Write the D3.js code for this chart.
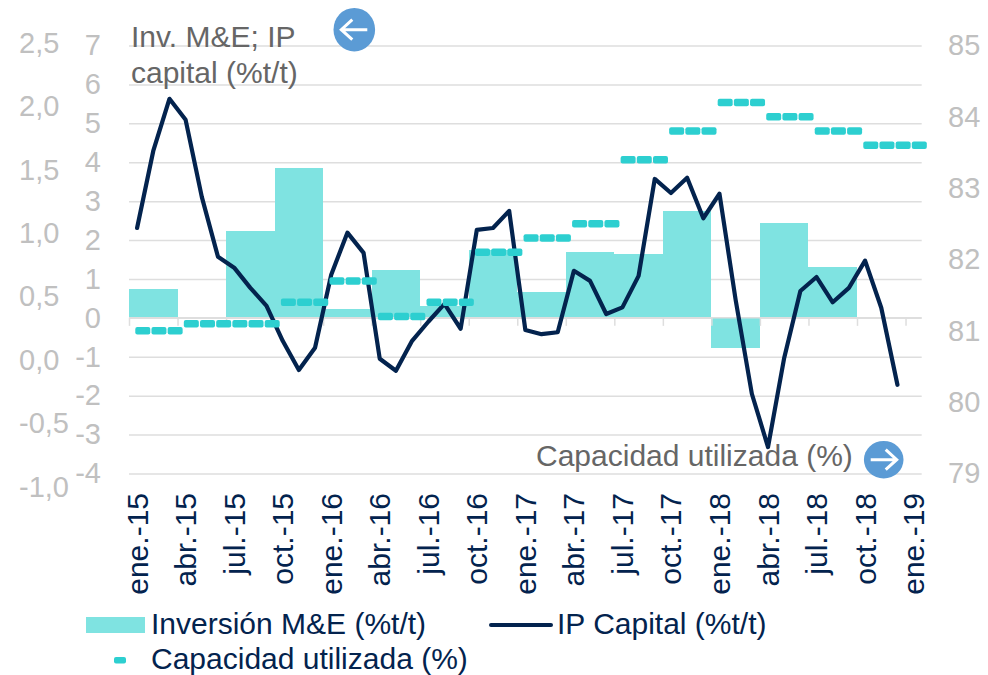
<!DOCTYPE html>
<meta charset="utf-8">
<style>
body { margin: 0; background: #fff; }
svg { display: block; }
text { font-family: "Liberation Sans", Arial, sans-serif; font-size: 30px; }
.grid line, .xticks line { stroke: #dedede; stroke-width: 1.5px; }
.grid .domain, .xticks .domain, .xlabels .domain, .axis2 .domain, .axis2 line { display: none; }
.xlabels line { display: none; }
.grid text, .axis2 text { fill: #c0c0c0; font-size: 29px; }
.xlabels text { fill: #03234e; font-size: 30px; }
.legend text { fill: #03234e; }
.note { fill: #666; }
</style>
<svg width="988" height="675"></svg>
<script src="https://d3js.org/d3.v7.min.js"></script>
<script>

var months = [
  "ene.-15","feb.-15","mar.-15","abr.-15","may.-15","jun.-15","jul.-15","ago.-15","sep.-15","oct.-15","nov.-15","dic.-15",
  "ene.-16","feb.-16","mar.-16","abr.-16","may.-16","jun.-16","jul.-16","ago.-16","sep.-16","oct.-16","nov.-16","dic.-16",
  "ene.-17","feb.-17","mar.-17","abr.-17","may.-17","jun.-17","jul.-17","ago.-17","sep.-17","oct.-17","nov.-17","dic.-17",
  "ene.-18","feb.-18","mar.-18","abr.-18","may.-18","jun.-18","jul.-18","ago.-18","sep.-18","oct.-18","nov.-18","dic.-18",
  "ene.-19"
];

// inversion M&E, one value per quarter starting ene.-15
var inversion = [0.74, 0, 2.23, 3.85, 0.22, 1.23, 0.3, 1.74, 0.67, 1.69, 1.64, 2.74, -0.78, 2.44, 1.32];

// IP capital, monthly
var ipCapital = [
  2.31, 4.29, 5.63, 5.09, 3.11, 1.57, 1.29, 0.77, 0.31, -0.59, -1.34, -0.77,
  1.11, 2.19, 1.67, -1.05, -1.36, -0.59, -0.10, 0.36, -0.28, 2.26, 2.31, 2.75,
  -0.31, -0.42, -0.37, 1.21, 0.95, 0.10, 0.27, 1.08, 3.57, 3.21, 3.60, 2.56,
  3.19, 0.46, -1.95, -3.32, -1.03, 0.69, 1.05, 0.40, 0.77, 1.47, 0.26, -1.72
];

// capacidad utilizada, monthly (right axis)
var capacidad = [
  81.0, 81.0, 81.0, 81.1, 81.1, 81.1, 81.1, 81.1, 81.1, 81.4, 81.4, 81.4,
  81.7, 81.7, 81.7, 81.2, 81.2, 81.2, 81.4, 81.4, 81.4, 82.1, 82.1, 82.1,
  82.3, 82.3, 82.3, 82.5, 82.5, 82.5, 83.4, 83.4, 83.4, 83.8, 83.8, 83.8,
  84.2, 84.2, 84.2, 84.0, 84.0, 84.0, 83.8, 83.8, 83.8, 83.6, 83.6, 83.6,
  83.6
];

var ipTicks = [7, 6, 5, 4, 3, 2, 1, 0, -1, -2, -3, -4];
var invTicks = [2.5, 2, 1.5, 1, 0.5, 0, -0.5, -1];
var capTicks = [85, 84, 83, 82, 81, 80, 79];

var svg = d3.select("svg");

var left = 129, right = 921.7, top_ = 45.5, bottom = 473.5;

var x = d3.scaleBand().domain(months).range([left, right]);
var xIdx = d3.scaleLinear().domain([0, months.length]).range([left, right]);
var y = d3.scaleLinear().domain([-4, 7]).range([bottom, top_]);
var yCap = d3.scaleLinear().domain([79, 85]).range([bottom, top_]);
var yInv = d3.scaleLinear().domain([-1, 2.5]).range([487, 43]);

var fmtComma = function(d) { return d3.format(".1f")(d).replace(".", ",").replace("−", "-"); };

// grid and IP axis labels
svg.append("g")
    .attr("class", "grid")
    .attr("transform", "translate(" + left + ",0)")
    .call(d3.axisLeft(y).tickValues(ipTicks).tickSize(-(right - left)).tickSizeOuter(0).tickPadding(28)
      .tickFormat(function(d) { return String(d); }));

// Inv. M&E labels, floating left of the IP labels
svg.append("g")
    .attr("class", "axis2")
    .attr("transform", "translate(19,0)")
    .call(d3.axisRight(yInv).tickValues(invTicks).tickSize(0).tickPadding(0).tickFormat(fmtComma));

svg.append("g")
    .attr("class", "axis2")
    .attr("transform", "translate(948,0)")
    .call(d3.axisRight(yCap).tickValues(capTicks).tickSize(0).tickPadding(0).tickFormat(d3.format("d")));

// bars span three months each
svg.append("g")
    .attr("shape-rendering", "crispEdges")
  .selectAll("rect")
    .data(inversion)
  .enter().append("rect")
    .attr("x", function(d, i) { return x(months[i * 3]); })
    .attr("width", x.bandwidth() * 3)
    .attr("y", function(d) { return y(Math.max(d, 0)); })
    .attr("height", function(d) { return Math.abs(y(d) - y(0)); })
    .attr("fill", "#7fe3e1");

// zero line and quarter ticks
svg.append("g")
    .attr("class", "xticks")
    .attr("transform", "translate(0," + y(0) + ")")
    .call(d3.axisBottom(xIdx).tickValues(d3.range(0, months.length, 3)).tickSize(8).tickFormat(""));

svg.append("line")
    .attr("x1", left).attr("x2", right)
    .attr("y1", y(0)).attr("y2", y(0))
    .attr("stroke", "#dedede").attr("stroke-width", 1.5);

var line = d3.line()
    .x(function(d, i) { return x(months[i]) + x.bandwidth() / 2; })
    .y(function(d) { return y(d); });

svg.append("path")
    .datum(ipCapital)
    .attr("d", line)
    .attr("fill", "none")
    .attr("stroke", "#03234e")
    .attr("stroke-width", 4.2)
    .attr("stroke-linejoin", "round")
    .attr("stroke-linecap", "round");

// capacity dashes sit slightly right of the band centre
var dashW = 15, dashH = 7.5, dashShift = 5.7;
svg.append("g").selectAll("rect")
    .data(capacidad)
  .enter().append("rect")
    .attr("x", function(d, i) { return x(months[i]) + x.bandwidth() / 2 + dashShift - dashW / 2; })
    .attr("y", function(d) { return yCap(d) - dashH / 2; })
    .attr("width", dashW)
    .attr("height", dashH)
    .attr("rx", 2)
    .attr("fill", "#2dcfd0");

// month labels, every third
var xLabels = svg.append("g")
    .attr("class", "xlabels")
    .attr("transform", "translate(0,493)")
    .call(d3.axisBottom(x).tickValues(months.filter(function(d, i) { return i % 3 === 0; })).tickSize(0).tickPadding(0));

xLabels.selectAll("text")
    .attr("transform", "rotate(-90)")
    .attr("text-anchor", "end")
    .attr("x", 0)
    .attr("y", 0)
    .attr("dy", "0.35em");

// annotations
svg.append("text").attr("class", "note").attr("x", 131).attr("y", 47).text("Inv. M&E; IP");
svg.append("text").attr("class", "note").attr("x", 131).attr("y", 83).text("capital (%t/t)");
svg.append("text").attr("class", "note").attr("x", 536).attr("y", 466).text("Capacidad utilizada (%)");

function arrow(cx, cy, rx, ry, dir) {
  var g = svg.append("g").attr("transform", "translate(" + cx + "," + cy + ")");
  g.append("ellipse").attr("rx", rx).attr("ry", ry).attr("fill", "#5b9bd5");
  g.append("path")
      .attr("d", "M-13,0H13M" + (dir * 2) + ",-10L" + (dir * 13) + ",0L" + (dir * 2) + ",10")
      .attr("fill", "none")
      .attr("stroke", "#fff")
      .attr("stroke-width", 3);
}
arrow(354.3, 29.7, 20.8, 21.8, -1);
arrow(883.7, 459.7, 19.8, 18.8, 1);

// legend
var legend = svg.append("g").attr("class", "legend");
legend.append("rect").attr("x", 86).attr("y", 617).attr("width", 59).attr("height", 16).attr("fill", "#7fe3e1");
legend.append("text").attr("x", 151).attr("y", 634).text("Inversión M&E (%t/t)");
legend.append("line").attr("x1", 491).attr("x2", 551).attr("y1", 625).attr("y2", 625)
    .attr("stroke", "#03234e").attr("stroke-width", 4).attr("stroke-linecap", "round");
legend.append("text").attr("x", 557).attr("y", 634).text("IP Capital (%t/t)");
legend.append("rect").attr("x", 114).attr("y", 657).attr("width", 12).attr("height", 6.5).attr("rx", 2).attr("fill", "#2dcfd0");
legend.append("text").attr("x", 151).attr("y", 669).text("Capacidad utilizada (%)");

</script>
